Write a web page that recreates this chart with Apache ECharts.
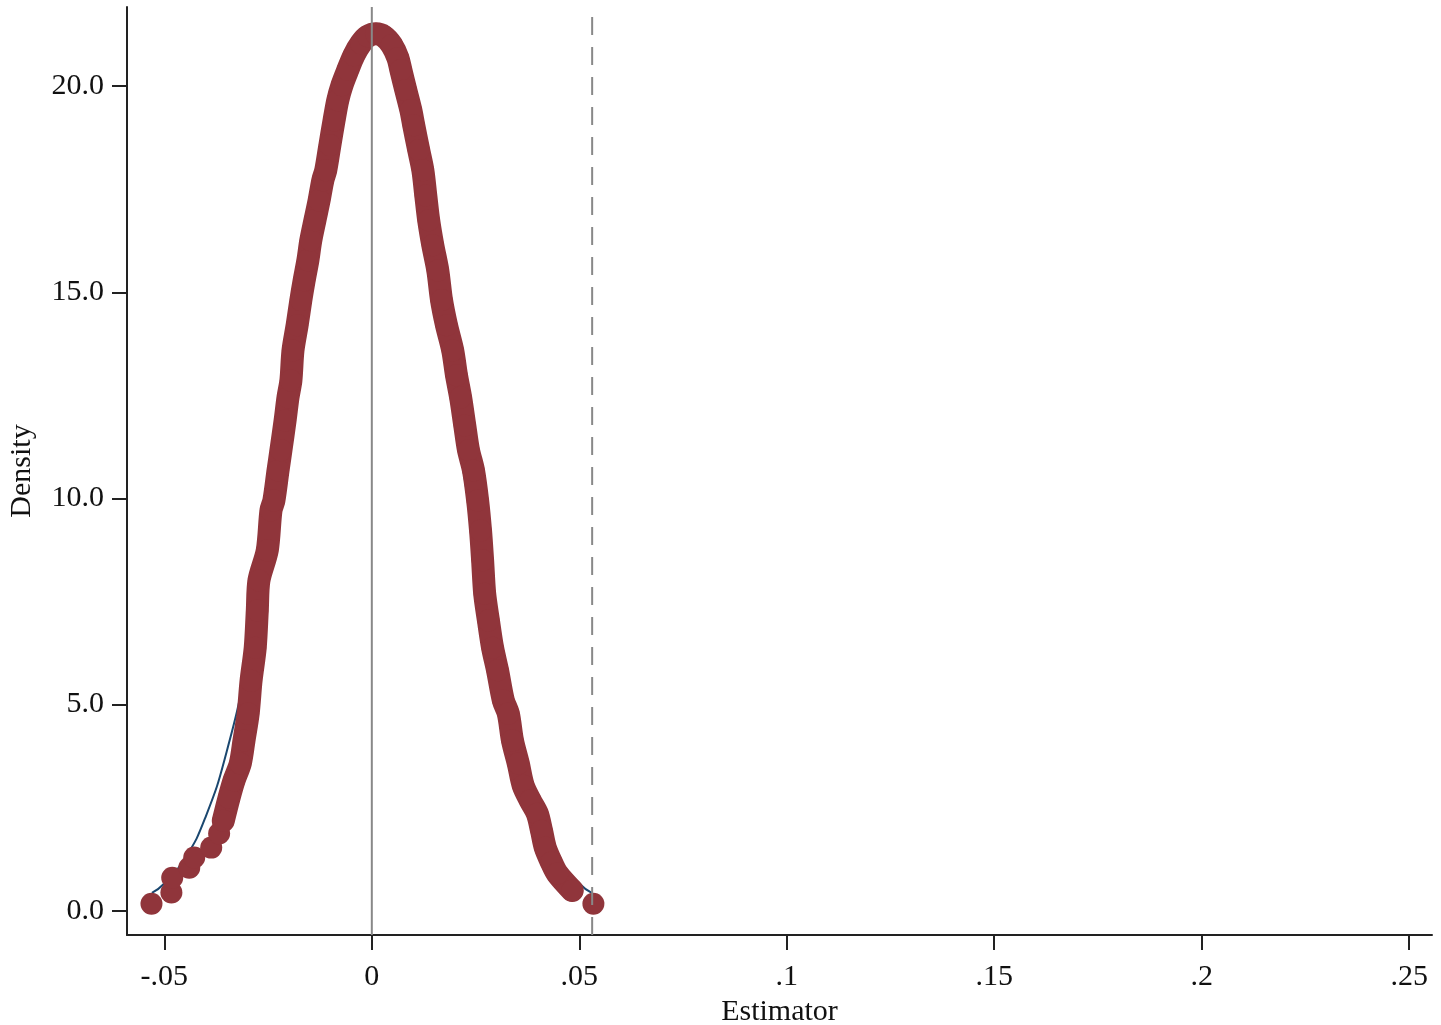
<!DOCTYPE html>
<html>
<head>
<meta charset="utf-8">
<title>Density</title>
<script src="https://cdn.jsdelivr.net/npm/echarts@6/dist/echarts.min.js"></script>
<style>
  html, body { margin: 0; padding: 0; background: #fff; }
  #chart { width: 1441px; height: 1025px; }
</style>
</head>
<body>
<div id="chart"></div>
<script>
// kernel density of the estimator (x, density)
var kdeX = [-0.0531, -0.0483, -0.0481, -0.0440, -0.0428, -0.0387, -0.0368,
  -0.0358, -0.0344, -0.0332, -0.0317, -0.0308, -0.0298, -0.0291, -0.0281, -0.0276, -0.0272,
  -0.0252, -0.0243, -0.0236, -0.0226, -0.0219, -0.0209, -0.0202, -0.0195, -0.0190, -0.0180,
  -0.0171, -0.0163, -0.0154, -0.0147, -0.0137, -0.0127, -0.0118, -0.0111, -0.0101, -0.0091,
  -0.0082, -0.0072, -0.0058, -0.0043, -0.0026, -0.0010, 0.0010, 0.0029, 0.0048, 0.0063,
  0.0070, 0.0082, 0.0094, 0.0101, 0.0113, 0.0123, 0.0130, 0.0137, 0.0147, 0.0159,
  0.0168, 0.0180, 0.0195, 0.0204, 0.0214, 0.0224, 0.0233, 0.0245, 0.0255, 0.0262,
  0.0267, 0.0272, 0.0281, 0.0291, 0.0303, 0.0317, 0.0329, 0.0339, 0.0353, 0.0365,
  0.0382, 0.0399, 0.0409, 0.0418, 0.0433, 0.0447,
  0.0483, 0.0534];
var kdeY = [0.17, 0.44, 0.80, 1.04, 1.29, 1.53, 1.87,
  2.18, 2.74, 3.16, 3.57, 4.13, 4.78, 5.58, 6.38, 7.28, 8.01,
  8.74, 9.71, 9.95, 10.68, 11.17, 11.89, 12.45, 12.86, 13.59, 14.20,
  14.81, 15.29, 15.78, 16.26, 16.75, 17.23, 17.72, 17.96, 18.57, 19.17,
  19.66, 20.02, 20.39, 20.75, 21.04, 21.21, 21.27, 21.21, 21.00, 20.68,
  20.39, 19.90, 19.42, 19.05, 18.45, 17.96, 17.35, 16.75, 16.14, 15.53,
  14.81, 14.20, 13.59, 12.99, 12.45, 11.77, 11.17, 10.68, 9.95, 9.22,
  8.50, 7.69, 7.04, 6.38, 5.83, 5.10, 4.78, 4.13, 3.57, 3.03,
  2.67, 2.35, 1.94, 1.53, 1.17, 0.90,
  0.49, 0.17];
// the dense part of the estimates (points overlap into a band)
var bandFrom = 7, bandTo = 83;

// normal density overlay
var normX = [-0.053, -0.050, -0.045, -0.040, -0.035, -0.030, -0.025, -0.020, -0.015, -0.010, -0.005,
  0, 0.005, 0.010, 0.015, 0.020, 0.025, 0.030, 0.035, 0.040, 0.045, 0.050, 0.053];
var normY = [0.43, 0.66, 1.27, 2.29, 3.85, 6.04, 8.83, 12.07, 15.38, 18.4, 20.45,
  21.15, 20.45, 18.4, 15.38, 12.07, 8.83, 6.04, 3.85, 2.29, 1.27, 0.66, 0.43];

// reference lines
var refSolid = 0;
var refDashed = 0.0531;

var xTicks = [-0.05, 0, 0.05, 0.1, 0.15, 0.2, 0.25];
var xTickLabels = ['-.05', '0', '.05', '.1', '.15', '.2', '.25'];
var yTicks = [0, 5, 10, 15, 20];

var xMin = -0.059, xMax = 0.2555;
var yMin = -0.59, yMax = 21.92;

var maroon = '#90353b';
var serif = "'Liberation Serif', 'Times New Roman', serif";

var kdePts = kdeX.map(function (x, i) { return [x, kdeY[i]]; });
var normPts = normX.map(function (x, i) { return [x, normY[i]]; });

function vline(x, type) {
  return {
    type: 'line',
    data: [[x, yMin], [x, yMax]],
    symbol: 'none',
    silent: true,
    lineStyle: { color: '#888', width: 2, type: type },
    z: 5
  };
}

var chart = echarts.init(document.getElementById('chart'));
var option = {
  animation: false,
  backgroundColor: '#fff',
  grid: { left: 127, right: 9, top: 7, bottom: 90, outerBoundsMode: 'none' },
  xAxis: {
    type: 'value',
    min: xMin,
    max: xMax,
    name: 'Estimator',
    nameLocation: 'middle',
    nameGap: 51,
    nameTextStyle: { fontFamily: serif, fontSize: 30, color: '#111' },
    axisLine: { show: true, onZero: false, lineStyle: { color: '#222', width: 2 } },
    axisTick: { show: true, length: 15, lineStyle: { color: '#222', width: 2 }, customValues: xTicks },
    axisLabel: {
      fontFamily: serif, fontSize: 30, color: '#111', margin: 27,
      customValues: xTicks,
      formatter: function (v) {
        var i = xTicks.findIndex(function (t) { return Math.abs(t - v) < 1e-9; });
        return i >= 0 ? xTickLabels[i] : '';
      }
    },
    splitLine: { show: false }
  },
  yAxis: {
    type: 'value',
    min: yMin,
    max: yMax,
    name: 'Density',
    nameLocation: 'middle',
    nameGap: 90,
    nameTextStyle: { fontFamily: serif, fontSize: 30, color: '#111' },
    axisLine: { show: true, onZero: false, lineStyle: { color: '#222', width: 2 } },
    axisTick: { show: true, length: 15, lineStyle: { color: '#222', width: 2 }, customValues: yTicks },
    axisLabel: {
      fontFamily: serif, fontSize: 30, color: '#111', margin: 23,
      customValues: yTicks,
      formatter: function (v) { return v.toFixed(1); }
    },
    splitLine: { show: false }
  },
  series: [
    {
      type: 'line',
      data: normPts,
      smooth: true,
      symbol: 'none',
      lineStyle: { color: '#1a476f', width: 2 },
      z: 2
    },
    {
      type: 'line',
      data: kdePts.slice(bandFrom, bandTo + 1),
      smooth: 0.3,
      symbol: 'none',
      lineStyle: { color: maroon, width: 23, cap: 'round', join: 'round' },
      z: 3
    },
    {
      type: 'scatter',
      data: kdePts,
      symbol: 'circle',
      symbolSize: 22,
      itemStyle: { color: maroon, opacity: 1 },
      z: 4
    },
    vline(refSolid, 'solid'),
    vline(refDashed, [18, 12])
  ]
};
chart.setOption(option);
window.addEventListener('resize', function () { chart.resize(); });
</script>
</body>
</html>
